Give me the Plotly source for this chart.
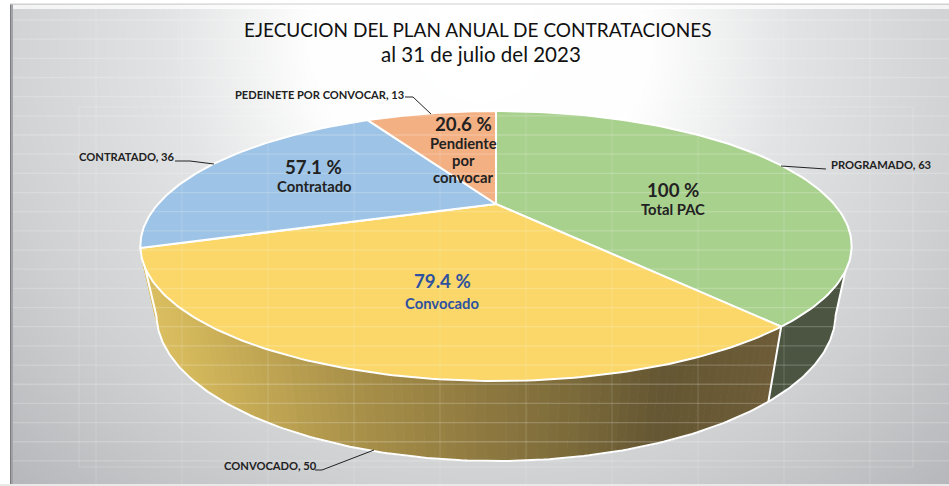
import numpy as np
import plotly.graph_objects as go

# ---------- data ----------
names = ["PROGRAMADO", "CONVOCADO", "CONTRATADO", "PEDEINETE POR CONVOCAR"]
values = [63, 50, 36, 13]
percent_labels = ["100 %", "79.4 %", "57.1 %", "20.6 %"]
inner_labels = ["Total PAC", "Convocado", "Contratado", "Pendiente<br>por<br>convocar"]
title_lines = ["EJECUCION DEL PLAN ANUAL DE CONTRATACIONES", "al 31 de julio del 2023"]

# ---------- styles ----------
top_colors = ["#A9D18E", "#FAD768", "#9DC3E6", "#F3B083"]
FONT = "Lato"
W, H = 949, 486

# perspective of the pie disc
CX, DX, A, B, C = 496.0, 338.0, 204.0, -58.5, 0.311


def upper(deg):
    t = np.radians(np.asarray(deg, dtype=float))
    X, Y = np.sin(t), np.cos(t)
    w = 1 + C * Y
    return CX + DX * X / w, (A + B * Y) / w


def lower(deg):
    x, y = upper(deg)
    return CX + 0.955 * (x - CX), 1.09 * y + 45.7


def lerp_color(x, xs, cs):
    rgb = [np.interp(x, xs, [c[i] for c in cs]) for i in range(3)]
    return "rgb(%d,%d,%d)" % tuple(rgb)


fractions = np.array(values) / sum(values)
edges = np.concatenate([[0], np.cumsum(fractions) * 360])

fig = go.Figure()
skip = dict(hoverinfo="skip", showlegend=False, mode="lines")

# ---------- background ----------
gx = np.linspace(0, W, 96)
gy = np.linspace(0, H, 50)
XX, YY = np.meshgrid(gx, gy)
d = np.sqrt(((XX - 480) / 520) ** 2 + ((YY - 45) / 470) ** 2)
d2 = np.interp(d, [0, 0.33, 0.6, 0.95, 1.3], [0, 0.02, 0.42, 0.72, 1.0])
fig.add_trace(go.Heatmap(x=gx, y=gy, z=d2, zsmooth="best", showscale=False, hoverinfo="skip",
                         zmin=0, zmax=1,
                         colorscale=[[0, "#ffffff"], [0.42, "#e2e3e4"], [0.72, "#cfd0d2"], [1, "#b6b7ba"]]))

# ---------- walls ----------
y_x = [141, 180, 353, 466, 575, 658, 770]
y_c = [(222, 192, 96), (214, 186, 92), (170, 146, 74), (146, 124, 65), (123, 106, 58), (101, 87, 51), (109, 92, 55)]
a1, a2 = edges[1], edges[2]
steps = np.linspace(a1, a2, 90)
for s0, s1 in zip(steps[:-1], steps[1:]):
    ux, uy = upper([s0, s1])
    lx, ly = lower([s1, s0])
    col = lerp_color((ux.mean() + lx.mean()) / 2, y_x, y_c)
    fig.add_trace(go.Scatter(x=list(ux) + list(lx), y=list(uy) + list(ly), fill="toself", fillcolor=col,
                             line=dict(color=col, width=1), **skip))

t_u = np.linspace(118, a1, 40)
t_l = np.linspace(a1, 108, 40)
ux, uy = upper(t_u)
lx, ly = lower(t_l)
fig.add_trace(go.Scatter(x=list(ux) + list(lx), y=list(uy) + list(ly), fill="toself", fillcolor="#4B5541",
                         line=dict(color="#4B5541", width=1), **skip))

# wall outlines
t_out = np.linspace(108, a2, 200)
lx, ly = lower(t_out)
ex, ey = upper([118, a1, a2])
lsx, lsy = lower([a1])
fig.add_trace(go.Scatter(x=[ex[0]] + list(lx) + [ex[2]], y=[ey[0]] + list(ly) + [ey[2]],
                         line=dict(color="white", width=2), **skip))
fig.add_trace(go.Scatter(x=[ex[1], lsx[0]], y=[ey[1], lsy[0]], line=dict(color="white", width=2), **skip))

# ---------- top of the pie ----------
for i in range(len(values)):
    t = np.linspace(edges[i], edges[i + 1], 120)
    x, y = upper(t)
    cx, cy = CX, A
    fig.add_trace(go.Scatter(x=[cx] + list(x) + [cx], y=[cy] + list(y) + [cy], fill="toself",
                             fillcolor=top_colors[i], line=dict(color="white", width=2),
                             name=names[i], hoverinfo="name", showlegend=False, mode="lines"))

# ---------- faint sheet grid on top ----------
hx, hy = [], []
for yy in np.arange(20, 480, 19.17):
    hx += [13, W, None]
    hy += [yy, yy, None]
vx, vy = [], []
for xx in np.arange(96, W, 86):
    vx += [xx, xx, None]
    vy += [6, 484, None]
fig.add_trace(go.Scatter(x=hx, y=hy, line=dict(color="rgba(255,255,255,0.20)", width=1.3), **skip))
fig.add_trace(go.Scatter(x=vx, y=vy, line=dict(color="rgba(255,255,255,0.14)", width=1.2), **skip))

# ---------- frame and leaders ----------
shapes = [
    dict(type="rect", x0=0, x1=10, y0=0, y1=H, fillcolor="white", line_width=0, layer="above"),
    dict(type="rect", x0=10, x1=11.5, y0=4, y1=H, fillcolor="#7b7c80", line_width=0, layer="above"),
    dict(type="rect", x0=11.5, x1=13, y0=4, y1=H, fillcolor="#a3a4a7", line_width=0, layer="above"),
    dict(type="rect", x0=0, x1=W, y0=0, y1=4, fillcolor="white", line_width=0, layer="above"),
    dict(type="line", x0=10, x1=W, y0=4, y1=4, line=dict(color="#cfcfd0", width=1), layer="above"),
    dict(type="rect", x0=13, x1=W, y0=5, y1=9, fillcolor="rgba(255,255,255,0.75)", line_width=0, layer="above"),
    dict(type="rect", x0=0, x1=W, y0=484, y1=H, fillcolor="#e9e9ea", line_width=0, layer="above"),
    dict(type="rect", x0=79, x1=913, y0=107, y1=467, line=dict(color="rgba(255,255,255,0.18)", width=1),
         layer="above"),
]
for path in ["M405,97 L413,97 L431,114", "M175,161 L190,161 L214,164",
             "M781,166 L826,169", "M315,470 L322,470 L374,450"]:
    shapes.append(dict(type="path", path=path, line=dict(color="#222222", width=1), layer="above"))

# ---------- text ----------
ann = []


def text(x, y, s, size, color="#222222", bold=False):
    ann.append(dict(x=x, y=y, xref="x", yref="y", text="<b>%s</b>" % s if bold else s, showarrow=False,
                    xanchor="center", yanchor="middle", align="center",
                    font=dict(family=FONT, size=size, color=color)))


text(478, 29, title_lines[0], 19, "#111111")
text(481, 54, title_lines[1], 20.5, "#111111")

text(881, 164, "%s, %d" % (names[0], values[0]), 11.2, bold=True)
text(270, 465, "%s, %d" % (names[1], values[1]), 11.2, bold=True)
text(127, 156, "%s, %d" % (names[2], values[2]), 11.2, bold=True)
text(319, 94, "%s, %d" % (names[3], values[3]), 11.1, bold=True)

text(673, 190, percent_labels[0], 18.7, bold=True)
text(673, 209, inner_labels[0], 14.8, bold=True)
text(442, 281, percent_labels[1], 18.7, "#2F52A0", bold=True)
text(442, 303, inner_labels[1], 14.8, "#2F52A0", bold=True)
text(313, 167, percent_labels[2], 18.7, bold=True)
text(314, 186, inner_labels[2], 14.8, bold=True)
text(463, 124, percent_labels[3], 18.7, bold=True)
for line, yy in zip(inner_labels[3].split("<br>"), [143, 160, 177]):
    text(463, yy, line, 14.8, bold=True)

fig.update_layout(
    width=W, height=H, autosize=False, margin=dict(l=0, r=0, t=0, b=0),
    paper_bgcolor="white", plot_bgcolor="white", showlegend=False,
    xaxis=dict(range=[0, W], visible=False, fixedrange=True),
    yaxis=dict(range=[H, 0], visible=False, fixedrange=True),
    shapes=shapes, annotations=ann,
)
fig.write_html("out.html", config=dict(displayModeBar=False),
               post_script="document.body.style.margin='0';document.body.style.overflow='hidden';")
